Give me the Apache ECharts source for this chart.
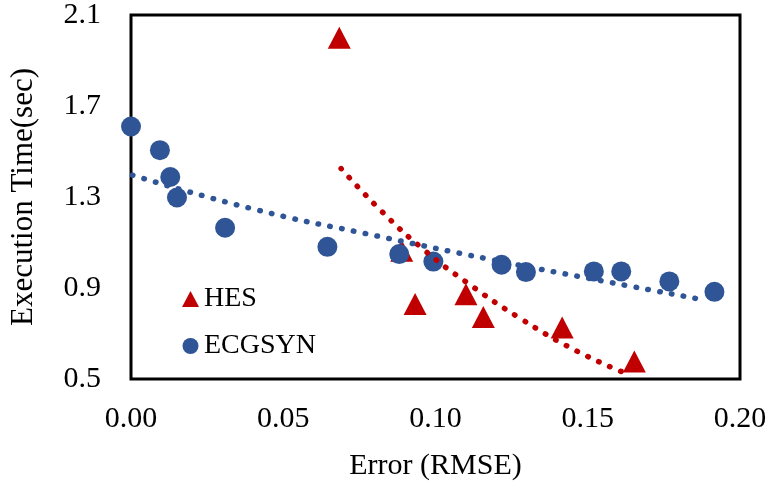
<!DOCTYPE html>
<html>
<head>
<meta charset="utf-8">
<script src="https://cdn.jsdelivr.net/npm/echarts@6/dist/echarts.min.js"></script>
<style>
html,body{margin:0;padding:0;background:#fff;}
#chart{width:771px;height:488px;}
</style>
</head>
<body>
<div id="chart"></div>
<script>
// HES points [error, time]
var hesData = [
  [0.0684, 2.00], [0.0889, 1.064], [0.0933, 0.830], [0.1100, 0.873],
  [0.1157, 0.772], [0.1416, 0.726], [0.1653, 0.577]
];
// ECGSYN points [error, time]
var ecgData = [
  [0.0000, 1.610], [0.0095, 1.506], [0.0129, 1.388], [0.0151, 1.298],
  [0.0309, 1.165], [0.0645, 1.081], [0.0881, 1.049], [0.0993, 1.016],
  [0.1217, 1.002], [0.1297, 0.970], [0.1520, 0.973], [0.1610, 0.973],
  [0.1768, 0.929], [0.1916, 0.883]
];
// Trend lines
var hesTrend = [
  [0.0690, 1.425], [0.0821, 1.240], [0.0960, 1.070], [0.1102, 0.925],
  [0.1274, 0.770], [0.1461, 0.625], [0.1625, 0.525]
];
var ecgTrend = [
  [0.0005, 1.396], [0.0402, 1.247], [0.0807, 1.129], [0.1179, 1.026],
  [0.1469, 0.951], [0.1888, 0.846]
];
var seriesNames = ['HES', 'ECGSYN'];
var xTitle = 'Error (RMSE)';
var yTitle = 'Execution Time(sec)';

var FONT = 'Liberation Serif';
var RED = '#C00000';
var BLUE = '#2F5597';

var chart = echarts.init(document.getElementById('chart'), null, {renderer: 'canvas'});
chart.setOption({
  animation: false,
  backgroundColor: '#fff',
  textStyle: {fontFamily: FONT, color: '#000'},
  grid: {left: 131, right: 31, top: 10, bottom: 109, show: true, borderColor: '#000', borderWidth: 3, backgroundColor: 'transparent'},
  legend: {
    data: seriesNames,
    orient: 'vertical',
    left: 177, top: 280,
    itemWidth: 17, itemHeight: 16, itemGap: 19,
    textStyle: {fontFamily: FONT, fontSize: 28, color: '#000'}
  },
  xAxis: {
    type: 'value', min: 0, max: 0.2, interval: 0.05,
    name: xTitle, nameLocation: 'middle', nameGap: 72,
    nameTextStyle: {fontFamily: FONT, fontSize: 30, color: '#000'},
    axisLine: {show: false}, axisTick: {show: false}, splitLine: {show: false},
    axisLabel: {fontFamily: FONT, fontSize: 30, color: '#000', margin: 25,
      formatter: function (v) { return v.toFixed(2); }}
  },
  yAxis: {
    type: 'value', min: 0.5, max: 2.1, interval: 0.4,
    name: yTitle, nameLocation: 'middle', nameGap: 92,
    nameTextStyle: {fontFamily: FONT, fontSize: 31, color: '#000'},
    axisLine: {show: false}, axisTick: {show: false}, splitLine: {show: false},
    axisLabel: {fontFamily: FONT, fontSize: 30, color: '#000', margin: 30, padding: [8, 0, 0, 0],
      formatter: function (v) { return v.toFixed(1); }}
  },
  series: [
    {name: 'HES', type: 'scatter', data: hesData, symbol: 'triangle', symbolSize: [23, 22],
      itemStyle: {color: RED, opacity: 1}, z: 2},
    {name: 'ECGSYN', type: 'scatter', data: ecgData, symbol: 'circle', symbolSize: 20,
      itemStyle: {color: BLUE, opacity: 1}, z: 3},
    {name: 'HES trend', type: 'line', data: hesTrend, smooth: true, symbol: 'none', z: 4,
      lineStyle: {color: RED, width: 5.5, type: [0.5, 11.5], cap: 'round'}},
    {name: 'ECGSYN trend', type: 'line', data: ecgTrend, smooth: true, symbol: 'none', z: 4,
      lineStyle: {color: BLUE, width: 5.5, type: [0.5, 11.5], cap: 'round'}}
  ]
});
</script>
</body>
</html>
